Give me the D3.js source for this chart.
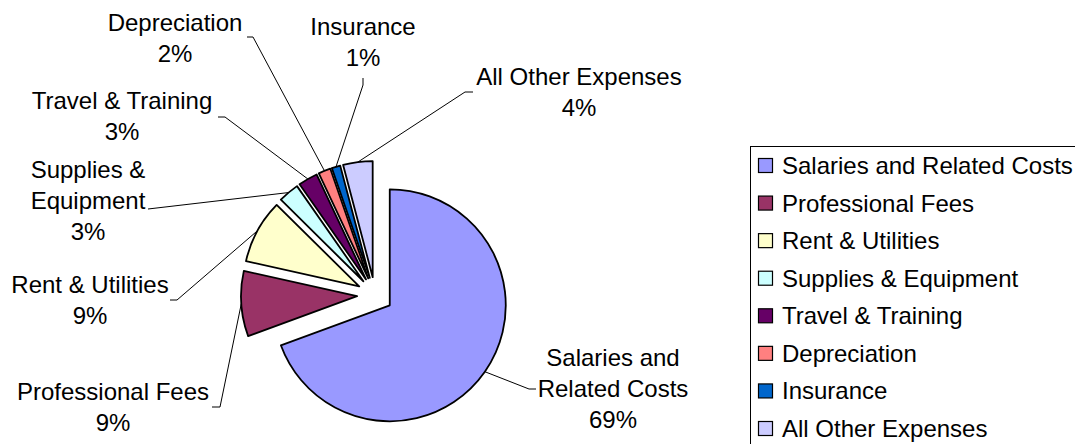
<!DOCTYPE html>
<html>
<head>
<meta charset="utf-8">
<script src="https://cdn.jsdelivr.net/npm/d3@7"></script>
<style>
  body { margin: 0; background: #fff; }
  svg { display: block; }
  text { font-family: "Liberation Sans", Arial, sans-serif; font-size: 24px; fill: #000; }
</style>
</head>
<body>
<svg width="1075" height="444"></svg>
<script>
// data
var categories = ["Salaries and Related Costs", "Professional Fees", "Rent & Utilities",
  "Supplies & Equipment", "Travel & Training", "Depreciation", "Insurance", "All Other Expenses"];
var values = [69.4, 9.1, 8.9, 2.9, 2.7, 1.7, 1.2, 4.1];
var labelLines = [["Salaries and", "Related Costs"], ["Professional Fees"], ["Rent & Utilities"],
  ["Supplies &", "Equipment"], ["Travel & Training"], ["Depreciation"], ["Insurance"], ["All Other Expenses"]];

var colors = ["#9999FF", "#993366", "#FFFFCC", "#CCFFFF", "#660066", "#FF8080", "#0066CC", "#CCCCFF"];

// where each data label sits: centre x, first baseline, leader start (+ elbow)
var labelLayout = [
  {x: 613, y: 366, lead: [[536, 389], [529, 389]]},
  {x: 113, y: 400, lead: [[212, 407], [220, 407]]},
  {x: 90,  y: 293, lead: [[170, 300], [177, 300]]},
  {x: 88,  y: 178, lead: [[148, 209]]},
  {x: 122, y: 109, lead: [[218, 117], [225, 117]]},
  {x: 175, y: 31,  lead: [[247, 37], [253, 37]]},
  {x: 363, y: 35,  lead: [[363, 78], [363, 85]]},
  {x: 579, y: 85,  lead: [[473, 92], [465, 92]]}
];

var svg = d3.select("svg");
var cx = 375, cy = 295, radius = 116, explode = 18, lineH = 31;

var pie = d3.pie().sort(null).value(function(d) { return d; });
var arc = d3.arc().innerRadius(0).outerRadius(radius);
var arcs = pie(values);
var total = d3.sum(values);

function dirOf(d) {
  var a = (d.startAngle + d.endAngle) / 2;
  return [Math.sin(a), -Math.cos(a)];
}

var g = svg.append("g").attr("transform", "translate(" + cx + "," + cy + ")");

g.selectAll("path.slice")
  .data(arcs)
  .enter().append("path")
  .attr("class", "slice")
  .attr("transform", function(d) {
    var v = dirOf(d);
    return "translate(" + (v[0] * explode) + "," + (v[1] * explode) + ")";
  })
  .attr("d", arc)
  .attr("fill", function(d, i) { return colors[i]; })
  .attr("stroke", "#000")
  .attr("stroke-width", 1.8)
  .attr("stroke-linejoin", "round");

// leader lines
var line = d3.line();
svg.append("g").selectAll("path")
  .data(arcs)
  .enter().append("path")
  .attr("d", function(d, i) {
    var v = dirOf(d);
    var end = [cx + v[0] * (radius + explode), cy + v[1] * (radius + explode)];
    return line(labelLayout[i].lead.concat([end]));
  })
  .attr("fill", "none")
  .attr("stroke", "#000")
  .attr("stroke-width", 1);

// data labels
var labels = svg.append("g").selectAll("text")
  .data(arcs)
  .enter().append("text")
  .attr("text-anchor", "middle")
  .attr("x", function(d, i) { return labelLayout[i].x; })
  .attr("y", function(d, i) { return labelLayout[i].y; });

labels.each(function(d, i) {
  var t = d3.select(this);
  var rows = labelLines[i].concat([Math.round(d.data / total * 100) + "%"]);
  rows.forEach(function(r, k) {
    t.append("tspan")
      .attr("x", labelLayout[i].x)
      .attr("dy", k === 0 ? 0 : lineH)
      .text(r);
  });
});

// legend
var legend = svg.append("g");
legend.append("rect")
  .attr("x", 750.5).attr("y", 146.5)
  .attr("width", 400).attr("height", 400)
  .attr("fill", "#fff").attr("stroke", "#000").attr("stroke-width", 1);

var rowY = d3.scalePoint().domain(categories).range([166, 429]);

var items = legend.selectAll("g.item")
  .data(categories)
  .enter().append("g")
  .attr("class", "item")
  .attr("transform", function(d) { return "translate(0," + rowY(d) + ")"; });

items.append("rect")
  .attr("x", 758.5).attr("y", -7.5)
  .attr("width", 14).attr("height", 14)
  .attr("fill", function(d, i) { return colors[i]; })
  .attr("stroke", "#000").attr("stroke-width", 1.2);

items.append("text")
  .attr("x", 782).attr("y", 8)
  .text(function(d) { return d; });
</script>
</body>
</html>
